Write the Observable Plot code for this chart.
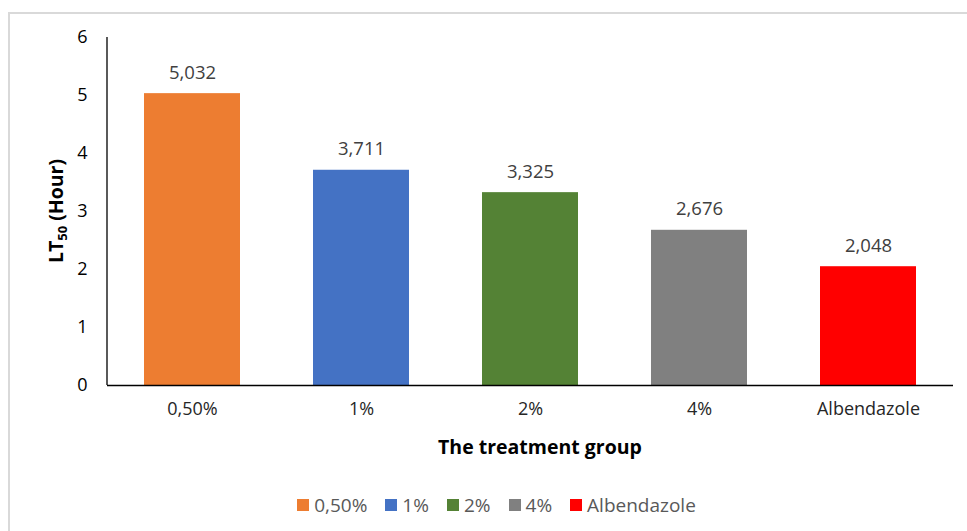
<!DOCTYPE html>
<html>
<head>
<meta charset="utf-8">
<script src="https://cdn.jsdelivr.net/npm/d3@7"></script>
<script src="https://cdn.jsdelivr.net/npm/@observablehq/plot@0.6"></script>
<style>
  html, body { margin: 0; padding: 0; background: #fff; }
  body { width: 967px; height: 531px; position: relative; overflow: hidden; font-family: "Open Sans", sans-serif; }
  #frame { position: absolute; left: 8px; top: 12px; width: 970px; height: 540px; border-left: 2px solid #d9d9d9; border-top: 2px solid #d9d9d9; box-sizing: border-box; }
  #chart { position: absolute; left: 0; top: 0; }
  #legend { position: absolute; left: 0; width: 993px; top: 492px; display: flex; justify-content: center; gap: 18px; font-size: 19px; color: #595959; line-height: 26px; }
  #legend .item { display: flex; align-items: center; gap: 5px; }
  #legend .sw { width: 12px; height: 12px; display: inline-block; }
</style>
</head>
<body>
<div id="frame"></div>
<div id="chart"></div>
<div id="legend"></div>
<script>
const groups = ["0,50%", "1%", "2%", "4%", "Albendazole"];
const lt50 = [5.032, 3.711, 3.325, 2.676, 2.048];
const valueLabels = ["5,032", "3,711", "3,325", "2,676", "2,048"];
const colors = ["#ED7D31", "#4472C4", "#548235", "#808080", "#FF0000"];
const yTicks = [0, 1, 2, 3, 4, 5, 6];

const data = groups.map((g, i) => ({group: g, value: lt50[i], label: valueLabels[i]}));

const W = 967, H = 480;
const chart = Plot.plot({
  width: W,
  height: H,
  marginTop: 37,
  marginBottom: 95,
  marginLeft: 107,
  marginRight: 14,
  style: {fontFamily: "'Open Sans', sans-serif", fontSize: "18px", background: "transparent", color: "#000"},
  x: {domain: groups, paddingInner: 0.43, paddingOuter: 0.215, label: null},
  y: {domain: [0, 6], label: null},
  color: {domain: groups, range: colors},
  marks: [
    Plot.barY(data, {x: "group", y: "value", fill: "group"}),
    Plot.text(data, {x: "group", y: "value", text: "label", dy: -21, fill: "#404040", fontSize: 18.5}),
    Plot.ruleY([0], {stroke: "#000", strokeWidth: 1.3}),
    Plot.axisX({tickSize: 0, tickPadding: 17, fontSize: 18, fill: "#262626", label: null}),
    Plot.axisY({ticks: yTicks, tickFormat: d3.format("d"), tickSize: 0, tickPadding: 20, fontSize: 18, fill: "#000", label: null})
  ]
});
document.getElementById("chart").appendChild(chart);

// y axis line and axis titles
const svg = d3.select(chart);
svg.append("line").attr("x1", 107).attr("x2", 107).attr("y1", 37).attr("y2", 385).attr("stroke", "#000").attr("stroke-width", 1.3);
svg.append("text").attr("x", 540).attr("y", 454).attr("text-anchor", "middle")
  .attr("font-weight", "bold").attr("font-size", 19.5).attr("fill", "#000").text("The treatment group");
const yl = svg.append("text").attr("transform", "translate(63,211) rotate(-90)").attr("text-anchor", "middle")
  .attr("font-weight", "bold").attr("font-size", 19.5).attr("fill", "#000");
yl.append("tspan").text("LT");
yl.append("tspan").attr("font-size", 13).attr("dy", 4).text("50");
yl.append("tspan").attr("dy", -4).text(" (Hour)");

// legend
const legend = d3.select("#legend");
groups.forEach((g, i) => {
  const it = legend.append("div").attr("class", "item");
  it.append("span").attr("class", "sw").style("background", colors[i]);
  it.append("span").text(g);
});
</script>
</body>
</html>
